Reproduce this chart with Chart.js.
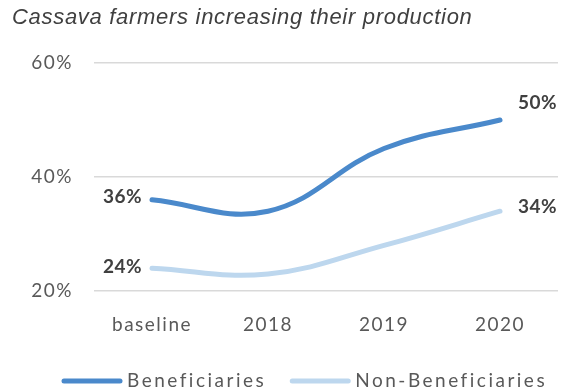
<!DOCTYPE html>
<html>
<head>
<meta charset="utf-8">
<script src="https://cdn.jsdelivr.net/npm/chart.js@4"></script>
<style>
  html, body { margin: 0; padding: 0; background: #ffffff; }
  #wrap { width: 561px; height: 392px; position: relative; }
</style>
</head>
<body>
<div id="wrap"><canvas id="c" width="561" height="392"></canvas></div>
<script>
const titleText = "Cassava farmers increasing their production";
const categories = ["baseline", "2018", "2019", "2020"];
const beneficiaries = [36, 34, 45, 50];
const nonBeneficiaries = [24, 23, 28, 34];
const seriesNames = ["Beneficiaries", "Non-Beneficiaries"];
const yTicks = [20, 40, 60];

const darkBlue = "#4a89cb";
const lightBlue = "#bdd7ee";
const FONT = "Lato, 'Open Sans', sans-serif";

const spacingPlugin = {
  id: "tickSpacing",
  beforeDraw(chart) {
    chart.ctx.letterSpacing = "1.5px";
  }
};

const titlePlugin = {
  id: "customTitle",
  afterDraw(chart) {
    const ctx = chart.ctx;
    ctx.save();
    ctx.letterSpacing = "0.7px";
    ctx.font = "italic 22px 'Liberation Sans', Arial, sans-serif";
    ctx.fillStyle = "#404040";
    ctx.textAlign = "left";
    ctx.textBaseline = "middle";
    ctx.fillText(titleText, 12, 18);
    ctx.restore();
  }
};

const labelPlugin = {
  id: "endLabels",
  afterDatasetsDraw(chart) {
    const ctx = chart.ctx;
    ctx.save();
    ctx.letterSpacing = "0.5px";
    ctx.font = "bold 19px " + FONT;
    ctx.fillStyle = "#404040";
    ctx.textBaseline = "middle";
    const offsets = [
      { first: [-10, -3], last: [18, -17] },
      { first: [-10, -1], last: [18, -4] }
    ];
    chart.data.datasets.forEach((ds, i) => {
      const meta = chart.getDatasetMeta(i);
      const n = ds.data.length;
      const p0 = meta.data[0];
      const pN = meta.data[n - 1];
      ctx.textAlign = "right";
      ctx.fillText(ds.data[0] + "%", p0.x + offsets[i].first[0], p0.y + offsets[i].first[1]);
      ctx.textAlign = "left";
      ctx.fillText(ds.data[n - 1] + "%", pN.x + offsets[i].last[0], pN.y + offsets[i].last[1]);
    });
    ctx.restore();
  }
};

const legendPlugin = {
  id: "customLegend",
  afterDraw(chart) {
    const ctx = chart.ctx;
    ctx.save();
    ctx.letterSpacing = "2.5px";
    ctx.font = "19px " + FONT;
    ctx.textBaseline = "middle";
    ctx.textAlign = "left";
    const y = 381;
    const lineLen = 60, gap = 5, itemGap = 24;
    let x = 62;
    chart.data.datasets.forEach(d => {
      const w = ctx.measureText(d.label).width;
      ctx.strokeStyle = d.borderColor;
      ctx.lineWidth = 5;
      ctx.lineCap = "round";
      ctx.beginPath();
      ctx.moveTo(x + 2, y);
      ctx.lineTo(x + lineLen - 2, y);
      ctx.stroke();
      ctx.fillStyle = "#595959";
      ctx.fillText(d.label, x + lineLen + gap, y);
      x += lineLen + gap + w + itemGap;
    });
    ctx.restore();
  }
};

new Chart(document.getElementById("c"), {
  type: "line",
  data: {
    labels: categories,
    datasets: [
      {
        label: seriesNames[0],
        data: beneficiaries,
        borderColor: darkBlue,
        backgroundColor: darkBlue,
        borderWidth: 5,
        pointRadius: 0,
        tension: 0.4,
        borderCapStyle: "round"
      },
      {
        label: seriesNames[1],
        data: nonBeneficiaries,
        borderColor: lightBlue,
        backgroundColor: lightBlue,
        borderWidth: 5,
        pointRadius: 0,
        tension: 0.4,
        borderCapStyle: "round"
      }
    ]
  },
  options: {
    responsive: false,
    animation: false,
    layout: { padding: { top: 63, right: 3, bottom: 0, left: 0 } },
    plugins: {
      legend: { display: false },
      title: { display: false },
      tooltip: { enabled: false }
    },
    scales: {
      x: {
        offset: true,
        grid: { display: false, drawTicks: false },
        border: { display: false },
        ticks: { color: "#595959", font: { family: FONT, size: 19 }, padding: 22 },
        afterFit(s) { s.height = 101; }
      },
      y: {
        min: 20,
        max: 60,
        afterBuildTicks(s) { s.ticks = yTicks.map(v => ({ value: v })); },
        grid: { color: "#d9d9d9", lineWidth: 1.5, drawTicks: false },
        border: { display: false },
        ticks: {
          color: "#595959",
          font: { family: FONT, size: 19 },
          padding: 21,
          callback: v => v + "%"
        },
        afterFit(s) { s.width = 94; }
      }
    }
  },
  plugins: [spacingPlugin, titlePlugin, labelPlugin, legendPlugin]
});
</script>
</body>
</html>
